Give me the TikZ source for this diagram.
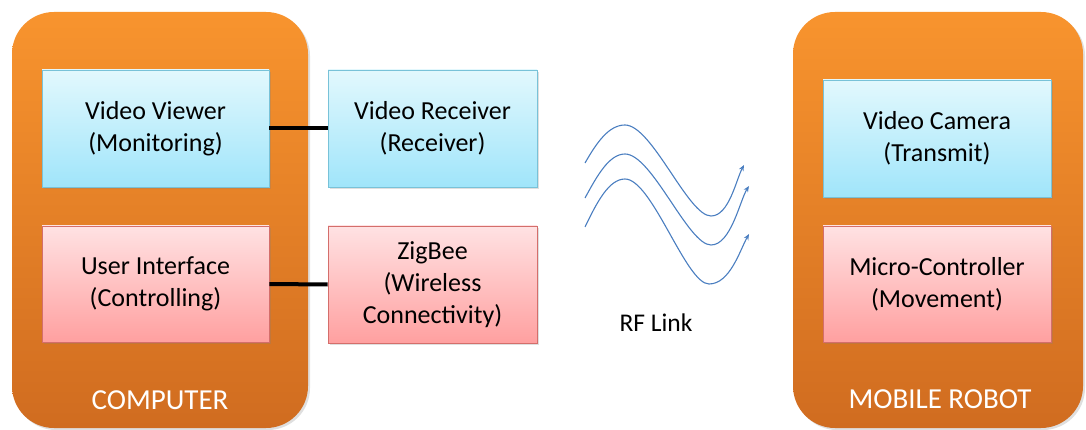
\documentclass[tikz,border=0pt]{standalone}
\usepackage{fontspec}
\setmainfont{Carlito}
\usetikzlibrary{shadows,arrows.meta}
\definecolor{orTop}{HTML}{F8942E}
\definecolor{orBot}{HTML}{D06C20}
\definecolor{blTop}{HTML}{E2F8FD}
\definecolor{blBot}{HTML}{A0E5FA}
\definecolor{blBrd}{HTML}{78C2D8}
\definecolor{pkTop}{HTML}{FFE2E3}
\definecolor{pkBot}{HTML}{FFA0A0}
\definecolor{pkBrd}{HTML}{D46E6B}
\definecolor{wave}{HTML}{4A7EC0}
\tikzset{
  container/.style={rounded corners=42pt, top color=orTop, bottom color=orBot, draw=none,
    drop shadow={opacity=0.25, shadow xshift=2pt, shadow yshift=-2pt}},
  box/.style={rectangle, align=center, font=\fontsize{26}{32}\selectfont, text=black,
    line width=0.8pt, inner sep=2pt,
    drop shadow={opacity=0.25, shadow xshift=2pt, shadow yshift=-2pt}},
  bluebox/.style={box, top color=blTop, bottom color=blBot, draw=blBrd},
  pinkbox/.style={box, top color=pkTop, bottom color=pkBot, draw=pkBrd},
  link/.style={line width=4pt, black},
  wavy/.style={wave, line width=1.1pt, -{Stealth[length=6pt,width=5pt,open]}},
  lbl/.style={font=\fontsize{29}{34}\selectfont, text=white},
}
\begin{document}
\begin{tikzpicture}[x=1pt,y=-1pt]
\useasboundingbox (0,0) rectangle (1086,430);
% containers
\path[container] (12,12) rectangle (308,428);
\path[container] (793,12) rectangle (1083,428);
% boxes
\node[bluebox, minimum width=227pt, minimum height=117pt] (vv) at (155.5,128.5) {Video Viewer\\(Monitoring)};
\node[pinkbox, minimum width=227pt, minimum height=116pt] (ui) at (155.5,284) {User Interface\\(Controlling)};
\node[bluebox, minimum width=209pt, minimum height=117pt] (vr) at (432.5,128.5) {Video Receiver\\(Receiver)};
\node[pinkbox, minimum width=209pt, minimum height=117pt] (zb) at (432.5,284.5) {ZigBee\\(Wireless\\Connectivity)};
\node[bluebox, minimum width=228pt, minimum height=117pt] (vc) at (937,138.5) {Video Camera\\(Transmit)};
\node[pinkbox, minimum width=228pt, minimum height=116pt] (mc) at (937,284) {Micro-Controller\\(Movement)};
% labels
\node[lbl] (comp) at (160,400) {COMPUTER};
\node[lbl] (robot) at (940,399) {MOBILE ROBOT};
\node[font=\fontsize{25.5}{30}\selectfont, text=black] (rf) at (656,323) {RF Link};
% links
\draw[link] (vv.east) -- (vr.west);
\draw[link] (ui.east) -- (zb.west);
% waves
\coordinate (w1s) at (585,163); \coordinate (w1e) at (744,165);
\coordinate (w2s) at (585,198); \coordinate (w2e) at (749,186);
\coordinate (w3s) at (585,227); \coordinate (w3e) at (749,234);
\draw[wavy] (w1s) .. controls (597,142) and (609,125) .. (625,125)
  .. controls (652,125) and (688,216) .. (711,216)
  .. controls (729,216) and (736,180) .. (w1e);
\draw[wavy] (w2s) .. controls (597,176) and (609,154) .. (625,154)
  .. controls (652,154) and (688,245) .. (711,245)
  .. controls (731,245) and (740,200) .. (w2e);
\draw[wavy] (w3s) .. controls (597,202) and (609,179) .. (625,179)
  .. controls (652,179) and (686,284) .. (709,284)
  .. controls (730,284) and (740,250) .. (w3e);
\end{tikzpicture}
\end{document}
